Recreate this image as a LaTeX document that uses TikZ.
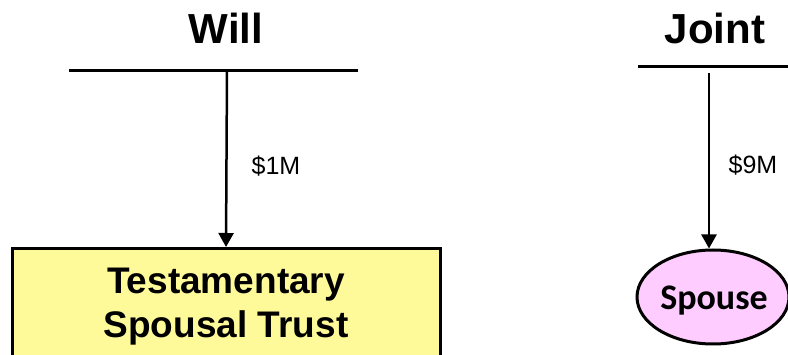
\documentclass[tikz,border=0pt]{standalone}
\usepackage{fontspec}
\setmainfont{Liberation Sans}
\newfontfamily\calibri{Carlito}
\usetikzlibrary{arrows.meta,shapes.geometric}
\tikzset{
  title/.style={font=\fontsize{42}{46}\selectfont\bfseries, inner sep=0pt},
  amount/.style={font=\fontsize{25}{28}\selectfont, inner sep=0pt},
  bar/.style={line width=3pt},
  flow/.style={line width=2.5pt, -{Triangle[length=14pt,width=15pt]}},
  trustbox/.style={draw, line width=3pt, fill=yellow!40, rectangle, minimum width=428pt, minimum height=116pt, align=center, font=\fontsize{37}{44}\selectfont\bfseries},
  spousebox/.style={draw, line width=3pt, fill={rgb,255:red,255;green,204;blue,255}, ellipse, minimum width=152pt, minimum height=94pt, inner sep=0pt},
  spousetext/.style={inner sep=0pt, font=\calibri\fontsize{36}{40}\selectfont\bfseries}
}
\begin{document}
\begin{tikzpicture}[x=1pt,y=-1pt]
\useasboundingbox (0,0) rectangle (788,355);
\clip (0,0) rectangle (788,355);
% Will column
\node[title] (will) at (226,28) {Will};
\coordinate (willL) at (69,71);
\coordinate (willR) at (358,71);
\draw[bar] (willL) -- (willR);
\coordinate (willtop) at (227,71);
\node[trustbox, anchor=north] (trust) at (226,247) {Testamentary\\Spousal Trust};
\draw[flow] (willtop) -- (trust.north);
\node[amount] (m1) at (276,166) {\$1M};
% Joint column
\node[title] (joint) at (715,28) {Joint};
\coordinate (jointL) at (638,67);
\coordinate (jointR) at (800,67);
\draw[bar] (jointL) -- (jointR);
\coordinate (jointtop) at (709,73);
\node[spousebox] (spouse) at (713,297) {};
\node[spousetext] (spouselbl) at (714,301) {Spouse};
\draw[flow] (jointtop) -- (spouse.north -| jointtop);
\node[amount] (m9) at (753,165) {\$9M};
\end{tikzpicture}
\end{document}
